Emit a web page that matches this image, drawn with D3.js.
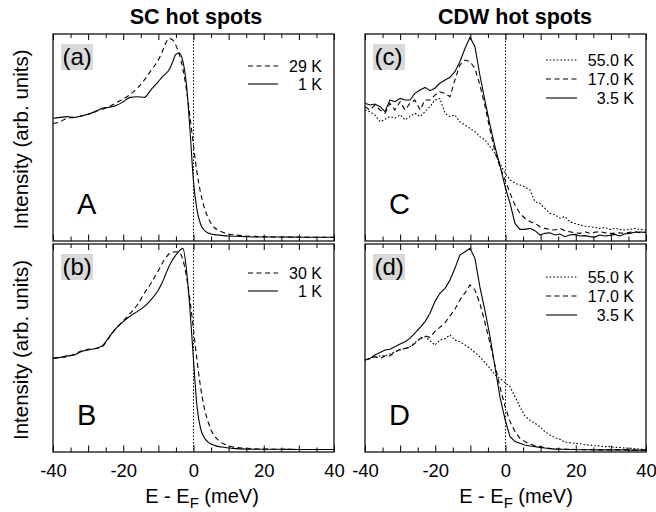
<!DOCTYPE html>
<html>
<head>
<meta charset="utf-8">
<script src="https://cdn.jsdelivr.net/npm/d3@7"></script>
<style>
  body { margin: 0; background: #fff; }
  svg { display: block; font-family: "Liberation Sans", Arial, sans-serif; }
</style>
</head>
<body>
<svg id="chart" width="656" height="512"></svg>
<script>
// energies (meV) for the SC hot-spot panels
const energyL = [-40, -38, -36, -34, -32, -30, -28, -26, -24, -22, -20, -18, -16, -14, -12, -10,
  -9, -8, -7, -6, -5, -4, -3, -2, -1, 0, 1, 2, 3, 4, 5, 6, 7, 8,
  10, 12, 15, 20, 25, 30, 35, 40];

const a29K = [0.568, 0.576, 0.593, 0.597, 0.604, 0.612, 0.625, 0.636, 0.649, 0.668, 0.686, 0.709, 0.738, 0.778, 0.826, 0.875,
  0.910, 0.952, 0.978, 0.972, 0.945, 0.900, 0.830, 0.730, 0.600, 0.460, 0.330, 0.235, 0.166, 0.118, 0.085, 0.064, 0.053, 0.045,
  0.034, 0.029, 0.024, 0.021, 0.019, 0.019, 0.018, 0.018];
const a1K = [0.593, 0.597, 0.601, 0.597, 0.604, 0.612, 0.625, 0.641, 0.646, 0.655, 0.673, 0.694, 0.697, 0.694, 0.733, 0.770,
  0.791, 0.807, 0.826, 0.862, 0.902, 0.907, 0.866, 0.754, 0.536, 0.287, 0.150, 0.082, 0.053, 0.040, 0.034, 0.031, 0.029, 0.027,
  0.024, 0.023, 0.021, 0.019, 0.019, 0.018, 0.018, 0.018];

const b30K = [0.450, 0.455, 0.458, 0.470, 0.486, 0.494, 0.497, 0.506, 0.551, 0.595, 0.631, 0.667, 0.707, 0.763, 0.814, 0.872,
  0.904, 0.931, 0.952, 0.960, 0.963, 0.958, 0.923, 0.843, 0.731, 0.587, 0.442, 0.314, 0.218, 0.154, 0.106, 0.077, 0.058, 0.045,
  0.030, 0.022, 0.018, 0.014, 0.013, 0.012, 0.012, 0.012];
const b1K = [0.450, 0.455, 0.462, 0.466, 0.482, 0.490, 0.498, 0.510, 0.554, 0.595, 0.627, 0.654, 0.675, 0.699, 0.734, 0.779,
  0.811, 0.851, 0.891, 0.923, 0.947, 0.968, 0.979, 0.875, 0.683, 0.442, 0.218, 0.114, 0.071, 0.050, 0.038, 0.032, 0.027, 0.024,
  0.019, 0.016, 0.014, 0.013, 0.013, 0.012, 0.012, 0.012];

// energies (meV) for the CDW hot-spot panels
const energyR = [-40, -38.6, -37.2, -35.7, -34.3, -32.9, -31.5, -30, -28.6, -27.2, -25.8, -24.3, -22.9, -21.5, -20.1,
  -18.7, -17.2, -15.8, -14.4, -13, -11.5, -10.1, -8.7, -7.3, -5.8, -4.4, -3, -1.6, -0.1, 1.3, 2.7, 4.1, 5.5, 7, 8.4,
  9.8, 11.2, 12.6, 14.1, 15.5, 16.9, 18.3, 19.7, 21.2, 22.6, 24, 25.4, 26.8, 28.3, 29.7, 31.1, 32.5, 33.9, 35.4,
  36.8, 38.2, 40];

const c55K = [0.633, 0.625, 0.609, 0.576, 0.588, 0.601, 0.593, 0.609, 0.585, 0.601,
  0.617, 0.601, 0.625, 0.649, 0.681, 0.689, 0.617, 0.601, 0.609, 0.576,
  0.560, 0.544, 0.528, 0.504, 0.488, 0.456, 0.424, 0.375, 0.327, 0.295,
  0.279, 0.271, 0.262, 0.246, 0.190, 0.182, 0.158, 0.134, 0.126, 0.110,
  0.118, 0.093, 0.085, 0.077, 0.072, 0.069, 0.066, 0.061, 0.066, 0.056,
  0.061, 0.056, 0.053, 0.056, 0.061, 0.056, 0.053];
const c17K = [0.649, 0.633, 0.657, 0.633, 0.617, 0.665, 0.633, 0.673, 0.633, 0.665,
  0.681, 0.633, 0.681, 0.681, 0.705, 0.721, 0.713, 0.697, 0.778, 0.850,
  0.874, 0.866, 0.834, 0.754, 0.649, 0.536, 0.432, 0.359, 0.295, 0.230,
  0.174, 0.134, 0.110, 0.093, 0.085, 0.069, 0.061, 0.056, 0.053, 0.061,
  0.050, 0.045, 0.040, 0.037, 0.045, 0.037, 0.042, 0.045, 0.040, 0.037,
  0.037, 0.040, 0.037, 0.042, 0.045, 0.040, 0.042];
const c35K = [0.665, 0.657, 0.662, 0.649, 0.625, 0.681, 0.673, 0.689, 0.681, 0.681,
  0.713, 0.729, 0.742, 0.726, 0.738, 0.762, 0.778, 0.791, 0.818, 0.866,
  0.931, 0.984, 0.939, 0.802, 0.673, 0.560, 0.456, 0.367, 0.262, 0.182,
  0.085, 0.056, 0.056, 0.061, 0.050, 0.029, 0.037, 0.040, 0.029, 0.034,
  0.021, 0.029, 0.032, 0.024, 0.026, 0.021, 0.019, 0.029, 0.024, 0.027,
  0.032, 0.024, 0.034, 0.037, 0.042, 0.043, 0.042];

const d55K = [0.442, 0.450, 0.458, 0.462, 0.462, 0.471, 0.482, 0.490, 0.498, 0.506,
  0.526, 0.546, 0.554, 0.535, 0.514, 0.538, 0.545, 0.563, 0.538, 0.530,
  0.514, 0.498, 0.478, 0.458, 0.429, 0.402, 0.370, 0.354, 0.333, 0.314,
  0.266, 0.218, 0.173, 0.151, 0.138, 0.122, 0.098, 0.082, 0.069, 0.061,
  0.048, 0.045, 0.042, 0.040, 0.035, 0.034, 0.030, 0.029, 0.026, 0.026,
  0.022, 0.022, 0.019, 0.018, 0.016, 0.014, 0.013];
const d17K = [0.442, 0.450, 0.458, 0.450, 0.462, 0.462, 0.482, 0.494, 0.498, 0.503,
  0.522, 0.546, 0.558, 0.551, 0.579, 0.599, 0.622, 0.654, 0.686, 0.731,
  0.766, 0.803, 0.779, 0.715, 0.619, 0.522, 0.418, 0.314, 0.218, 0.146,
  0.098, 0.066, 0.050, 0.038, 0.030, 0.026, 0.021, 0.018, 0.016, 0.014,
  0.013, 0.013, 0.012, 0.012, 0.011, 0.011, 0.011, 0.010, 0.010, 0.010,
  0.010, 0.010, 0.010, 0.010, 0.009, 0.009, 0.009];
const d35K = [0.442, 0.450, 0.466, 0.478, 0.490, 0.494, 0.506, 0.519, 0.530, 0.546,
  0.571, 0.599, 0.627, 0.667, 0.723, 0.763, 0.787, 0.827, 0.883, 0.947,
  0.963, 0.979, 0.931, 0.795, 0.675, 0.554, 0.410, 0.266, 0.154, 0.074,
  0.050, 0.042, 0.034, 0.029, 0.026, 0.022, 0.019, 0.016, 0.014, 0.013,
  0.013, 0.012, 0.012, 0.011, 0.011, 0.011, 0.010, 0.010, 0.010, 0.010,
  0.010, 0.010, 0.010, 0.009, 0.009, 0.009, 0.009];

const xTickLabels = [-40, -20, 0, 20, 40];
const majorTicks = [-40, -30, -20, -10, 0, 10, 20, 30, 40];
const minorTicks = [-35, -25, -15, -5, 5, 15, 25, 35];
const columnTitles = ['SC hot spots', 'CDW hot spots'];

const svg = d3.select('#chart');
const font = '"Liberation Sans", Arial, sans-serif';

// layout
const cols = [{ left: 53, width: 281, titleX: 196, labelX: 202 }, { left: 365, width: 281, titleX: 515, labelX: 516 }];
const rows = [{ top: 34, height: 207 }, { top: 244, height: 208 }];

const DASH = '5,3.5';
const DOT = '1.6,2';

const panels = [
  { col: 0, row: 0, tag: '(a)', letter: 'A', energy: energyL, curve: d3.curveMonotoneX, legendY: 32, spacing: 18,
    series: [{ label: '29 K', values: a29K, dash: DASH }, { label: '1 K', values: a1K, dash: null }] },
  { col: 0, row: 1, tag: '(b)', letter: 'B', energy: energyL, curve: d3.curveMonotoneX, legendY: 29, spacing: 18,
    series: [{ label: '30 K', values: b30K, dash: DASH }, { label: '1 K', values: b1K, dash: null }] },
  { col: 1, row: 0, tag: '(c)', letter: 'C', energy: energyR, curve: d3.curveLinear, legendY: 26, spacing: 19,
    series: [{ label: '55.0 K', values: c55K, dash: DOT }, { label: '17.0 K', values: c17K, dash: DASH }, { label: '3.5 K', values: c35K, dash: null }] },
  { col: 1, row: 1, tag: '(d)', letter: 'D', energy: energyR, curve: d3.curveLinear, legendY: 33, spacing: 19,
    series: [{ label: '55.0 K', values: d55K, dash: DOT }, { label: '17.0 K', values: d17K, dash: DASH }, { label: '3.5 K', values: d35K, dash: null }] }
];

panels.forEach((p) => {
  const c = cols[p.col];
  const r = rows[p.row];
  const bottom = r.top + r.height;
  const x = d3.scaleLinear().domain([-40, 40]).range([c.left, c.left + c.width]);
  const y = d3.scaleLinear().domain([0, 1]).range([bottom, r.top]);
  const g = svg.append('g');

  // zero line
  g.append('line')
    .attr('x1', x(0)).attr('x2', x(0))
    .attr('y1', r.top).attr('y2', bottom)
    .attr('stroke', '#000').attr('stroke-width', 1)
    .attr('stroke-dasharray', '1.5,1.8');

  // tag box
  g.append('rect')
    .attr('x', c.left + 8).attr('y', r.top + 10)
    .attr('width', 32).attr('height', 26)
    .attr('fill', '#d9d9d9');
  g.append('text')
    .attr('x', c.left + 9.5).attr('y', r.top + 31)
    .style('font-size', '24px').style('font-family', font)
    .text(p.tag);

  // big letter
  g.append('text')
    .attr('x', c.left + 24).attr('y', bottom - 27)
    .style('font-size', '29px').style('font-family', font)
    .text(p.letter);

  // curves
  p.series.forEach((s) => {
    const line = d3.line()
      .x((d, i) => x(p.energy[i]))
      .y((d) => y(d))
      .curve(p.curve);
    g.append('path')
      .datum(s.values)
      .attr('d', line)
      .attr('fill', 'none')
      .attr('stroke', '#000')
      .attr('stroke-width', 1.1)
      .attr('stroke-dasharray', s.dash);
  });

  // legend
  const lx0 = p.col === 0 ? c.left + 195 : c.left + 181;
  const lx1 = p.col === 0 ? c.left + 225 : c.left + 212;
  p.series.forEach((s, i) => {
    const ly = r.top + p.legendY + i * p.spacing;
    g.append('line')
      .attr('x1', lx0).attr('x2', lx1)
      .attr('y1', ly).attr('y2', ly)
      .attr('stroke', '#000').attr('stroke-width', 1.1)
      .attr('stroke-dasharray', s.dash);
    g.append('text')
      .attr('x', c.left + 269).attr('y', ly + 5.5)
      .attr('text-anchor', 'end')
      .style('font-size', '16px').style('font-family', font)
      .text(s.label);
  });

  // inward ticks, top and bottom
  const fmt = (d) => (p.row === 1 && xTickLabels.includes(d) ? String(d) : '');
  const bot = g.append('g').attr('transform', `translate(0,${bottom})`);
  bot.call(d3.axisBottom(x).tickValues(majorTicks).tickSize(-6.5).tickPadding(12).tickFormat(fmt));
  bot.append('g').call(d3.axisBottom(x).tickValues(minorTicks).tickSize(-4.5).tickFormat(''));
  const top = g.append('g').attr('transform', `translate(0,${r.top})`);
  top.call(d3.axisTop(x).tickValues(majorTicks).tickSize(-6).tickFormat(''));
  top.append('g').call(d3.axisTop(x).tickValues(minorTicks).tickSize(-4).tickFormat(''));
  g.selectAll('.domain').remove();
  g.selectAll('.tick line').attr('stroke', '#000').attr('stroke-width', 1);
  bot.selectAll('text').style('font-size', '18.5px').style('font-family', font).attr('fill', '#000');

  // frame
  g.append('rect')
    .attr('x', c.left).attr('y', r.top)
    .attr('width', c.width).attr('height', r.height)
    .attr('fill', 'none').attr('stroke', '#111').attr('stroke-width', 1.3);
});

// column titles and x labels
cols.forEach((c, i) => {
  svg.append('text')
    .attr('x', c.titleX).attr('y', 24)
    .attr('text-anchor', 'middle')
    .style('font-size', '21.5px').style('font-weight', 'bold').style('font-family', font)
    .text(columnTitles[i]);

  const t = svg.append('text')
    .attr('x', c.labelX).attr('y', 503)
    .attr('text-anchor', 'middle')
    .style('font-size', '20px').style('font-family', font);
  t.append('tspan').text('E - E');
  t.append('tspan').attr('dy', 5).style('font-size', '15px').text('F');
  t.append('tspan').attr('dy', -5).text(' (meV)');
});

// y labels
rows.forEach((r) => {
  svg.append('text')
    .attr('transform', `translate(28,${r.top + r.height / 2 + 2}) rotate(-90)`)
    .attr('text-anchor', 'middle')
    .style('font-size', '20.5px').style('font-family', font)
    .text('Intensity (arb. units)');
});
</script>
</body>
</html>
